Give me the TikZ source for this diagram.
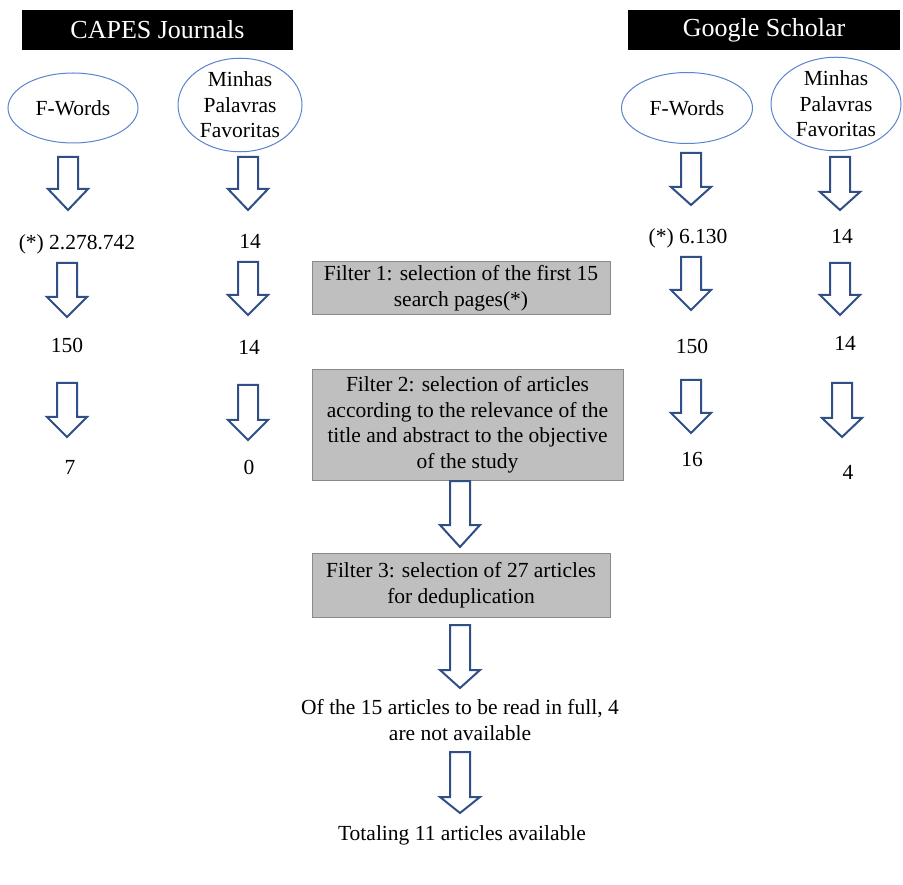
\documentclass[tikz,border=0pt]{standalone}
\usepackage{fontspec}
\setmainfont{Liberation Serif}
\usetikzlibrary{shapes.geometric}
\definecolor{arrowblue}{HTML}{2F4F86}
\definecolor{ellblue}{HTML}{5B83CF}
\definecolor{boxgray}{HTML}{BFBFBF}
\definecolor{boxedge}{HTML}{8A8A8A}
\newcommand\dnarrow[4]{\draw[blockarrow] (#1-10,#2) -- (#1+10,#2) -- (#1+10,#3) -- (#1+20,#3) -- (#1,#4) -- (#1-20,#3) -- (#1-10,#3) -- cycle;}
\begin{document}
\begin{tikzpicture}[x=1pt,y=-1pt,
  body/.style={font=\fontsize{21.5}{25.5}\selectfont, inner sep=0pt, align=center},
  hdr/.style={fill=black, text=white, font=\fontsize{26}{30}\selectfont, inner sep=0pt, minimum height=40pt},
  ell/.style={body, ellipse, draw=ellblue, line width=1pt},
  filterbox/.style={body, fill=boxgray, draw=boxedge, line width=1pt},
  blockarrow/.style={draw=arrowblue, line width=2pt, fill=white, line join=miter}]
\fill[white] (0,0) rectangle (903,885);
\useasboundingbox (0,0) rectangle (903,885);
% headers
\node[hdr, minimum width=271pt] (capes) at (157.5,30) {CAPES Journals};
\node[hdr, minimum width=272pt] (google) at (764,30) {Google Scholar};
% ellipses
\node[ell, minimum width=130pt, minimum height=70pt] (fw1) at (73,108) {F-Words};
\node[ell, minimum width=124pt, minimum height=85pt] (mp1) at (240,105) {Minhas\\Palavras\\Favoritas};
\node[ell, minimum width=131pt, minimum height=71pt] (fw2) at (687,108) {F-Words};
\node[ell, minimum width=130pt, minimum height=85pt] (mp2) at (836,104) {Minhas\\Palavras\\Favoritas};
% column 1
\dnarrow{68}{157}{189}{210}
\node[body] (c1a) at (77,244) {(*) 2.278.742};
\dnarrow{67}{263}{297}{317}
\node[body] (c1b) at (67,345) {150};
\dnarrow{67}{383}{417}{437}
\node[body] (c1c) at (70,467) {7};
% column 2
\dnarrow{248}{157}{189}{210}
\node[body] (c2a) at (250,241) {14};
\dnarrow{248}{262}{295}{315}
\node[body] (c2b) at (249,347) {14};
\dnarrow{248}{385}{420}{440}
\node[body] (c2c) at (249,467) {0};
% column 3
\dnarrow{691}{153}{187}{205}
\node[body] (c3a) at (688,238) {(*) 6.130};
\dnarrow{691}{257}{290}{310}
\node[body] (c3b) at (692,346) {150};
\dnarrow{691}{380}{413}{433}
\node[body] (c3c) at (692,459) {16};
% column 4
\dnarrow{840}{157}{192}{210}
\node[body] (c4a) at (842,236) {14};
\dnarrow{840}{263}{295}{315}
\node[body] (c4b) at (845,343) {14};
\dnarrow{842}{383}{418}{437}
\node[body] (c4c) at (848,472) {4};
% filters
\node[filterbox, minimum width=298pt, minimum height=53pt] (f1) at (461,288.5) {Filter 1: selection of the first 15\\search pages(*)};
\node[filterbox, minimum width=311pt, minimum height=110pt] (f2) at (467.5,425) {Filter 2: selection of articles\\according to the relevance of the\\title and abstract to the objective\\of the study};
\dnarrow{460}{481}{525}{547}
\node[filterbox, minimum width=298pt, minimum height=64pt] (f3) at (461,585) {Filter 3: selection of 27 articles\\for deduplication};
\dnarrow{460}{625}{670}{688}
\node[body] (read) at (460,720) {Of the 15 articles to be read in full, 4\\are not available};
\dnarrow{460}{752}{797}{813}
\node[body] (total) at (462,835) {Totaling 11 articles available};
\end{tikzpicture}
\end{document}
